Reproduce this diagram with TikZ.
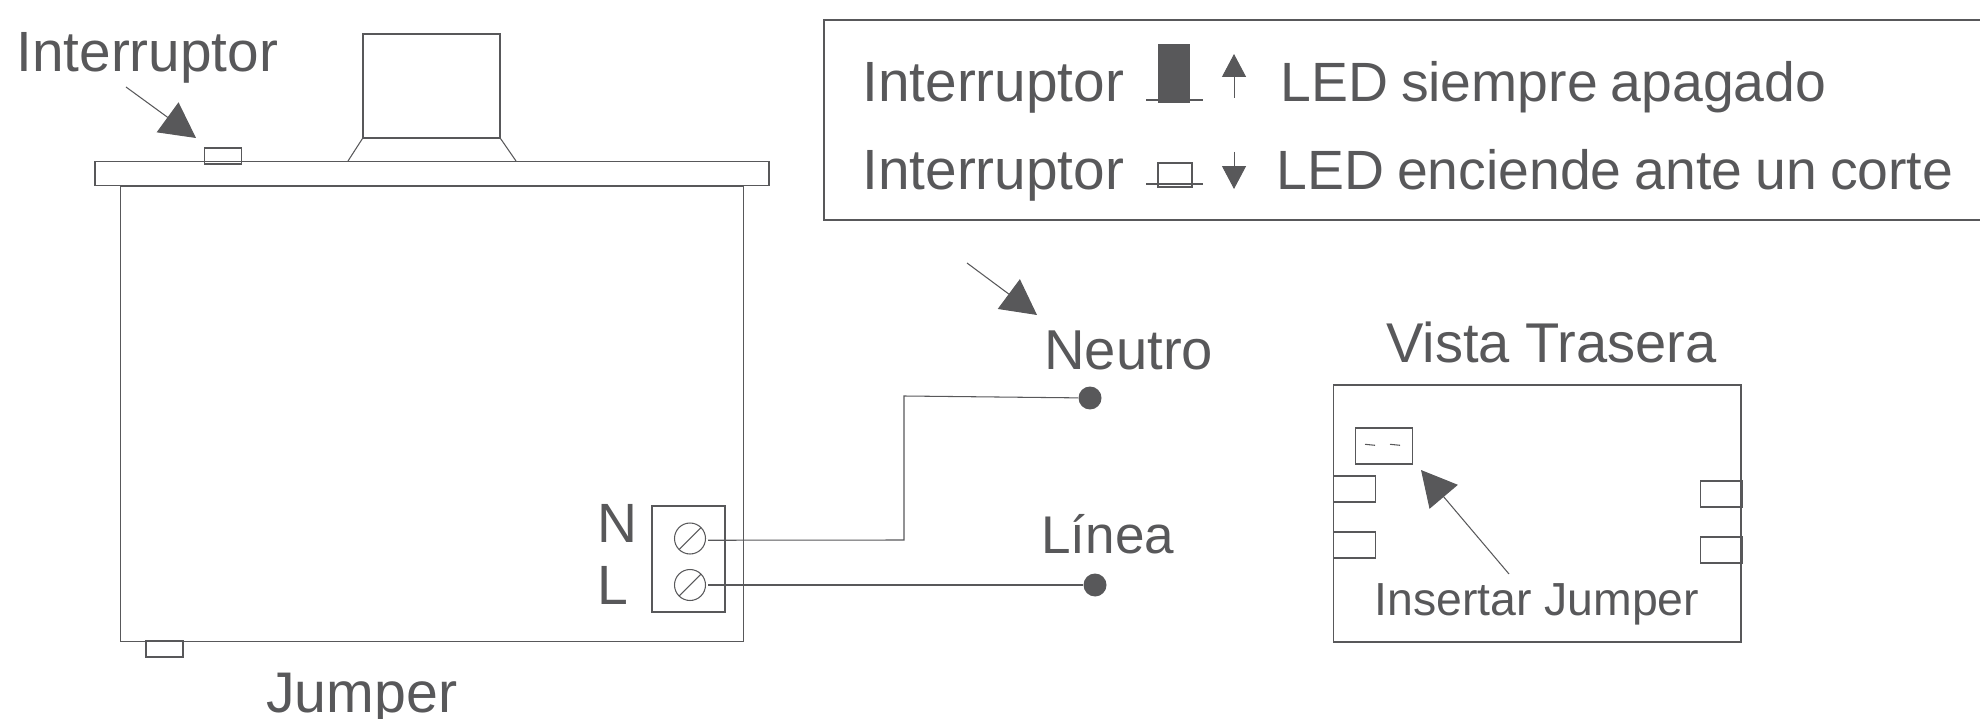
\documentclass[tikz,border=0pt]{standalone}
\usepackage{fontspec}
\setmainfont{Liberation Sans}
\usetikzlibrary{arrows.meta}
\definecolor{ink}{HTML}{58585A}
\newcommand{\sized}[1]{\fontsize{#1}{36}\selectfont}

\begin{document}
\begin{tikzpicture}[
  x=0.02cm, y=-0.02cm,
  part/.style={draw=ink, rectangle, inner sep=0pt, line width=0.6pt},
  screw/.style={draw=ink, circle, inner sep=0pt, outer sep=0pt, minimum size=0.62cm, line width=0.6pt},
  dot/.style={fill=ink, circle, inner sep=0pt, minimum size=0.46cm},
  txt/.style={anchor=base west, inner sep=0pt, text=ink, font=\sized{31.5}},
  tight/.style={txt, execute at begin node={\spaceskip=0.236em\relax}},
  wire/.style={draw=ink, line width=0.6pt},
  pointer/.style={draw=ink, line width=0.6pt, -{Triangle[length=20pt, width=21pt]}},
  mini/.style={draw=ink, line width=0.55pt, -{Triangle[length=13pt, width=13.6pt]}}
]
\useasboundingbox (0,0) rectangle (1980,719);

% Front view
\node[part, minimum width=2.74cm, minimum height=2.08cm] (knob) at (431.5,86) {};
\draw[wire] (knob.south west) -- (348,161);
\draw[wire] (knob.south east) -- (516,161);
\node[part, minimum width=0.73cm, minimum height=0.32cm] (switch) at (223,156) {};
\node[part, line width=1pt, minimum width=13.48cm, minimum height=0.48cm] (lid) at (432,173.5) {};
\node[part, minimum width=12.48cm, minimum height=9.12cm] (body) at (432,414) {};
\node[part, minimum width=0.74cm, minimum height=0.32cm] (jumper) at (164.5,649) {};

% Terminal block
\node[part, minimum width=1.46cm, minimum height=2.12cm] (block) at (688.5,559) {};
\node[screw] (screwN) at (690,538.5) {};
\node[screw] (screwL) at (690,585) {};
\draw[wire] (screwN.225) -- (screwN.45);
\draw[wire] (screwL.225) -- (screwL.45);

% Mains
\node[dot] (dotN) at (1090,398) {};
\node[dot] (dotL) at (1095,585) {};
\coordinate (bendA) at (904,540);
\coordinate (bendB) at (904,396);
\draw[wire] ([xshift=1.5pt,yshift=-1pt]screwN.east) -- (bendA) -- (bendB) -- (dotN);
\draw[wire] ([xshift=1.5pt]screwL.east) -- (dotL);

% Rear view
\node[part, minimum width=8.16cm, minimum height=5.14cm] (rear) at (1537,513.5) {};
\node[part, minimum width=1.14cm, minimum height=0.72cm] (socket) at (1384,446) {};
\draw[wire] (1365,444.3) -- (1375,445.3);
\draw[wire] (1390,444.3) -- (1400,445.3);
\node[part, minimum width=0.85cm, minimum height=0.52cm] (tabA) at (1354.3,489) {};
\node[part, minimum width=0.85cm, minimum height=0.52cm] (tabB) at (1354.3,545) {};
\node[part, minimum width=0.84cm, minimum height=0.52cm] (tabC) at (1721,494) {};
\node[part, minimum width=0.84cm, minimum height=0.52cm] (tabD) at (1721,550) {};

% Legend
\draw[wire] (1980,20) -- (824,20) -- (824,220) -- (1980,220);
\node[part, fill=ink, minimum width=0.62cm, minimum height=1.14cm] (swOn) at (1174,73.5) {};
\draw[wire] (1146,100) -- (1203,100);
\node[part, minimum width=0.68cm, minimum height=0.48cm] (swOff) at (1175,175) {};
\draw[wire] (1146,184) -- (1203,184);
\coordinate (upTail) at (1234,98);
\coordinate (upTip) at (1234,54);
\coordinate (downTail) at (1234,152);
\coordinate (downTip) at (1234,189);
\draw[mini] (upTail) -- (upTip);
\draw[mini] (downTail) -- (downTip);

% Pointers
\coordinate (tailSwitch) at (126,87);
\coordinate (tipSwitch) at (196,138);
\coordinate (tailNeutro) at (967,263);
\coordinate (tipNeutro) at (1037,315);
\coordinate (tailSocket) at (1509,574);
\coordinate (tipSocket) at (1421,470);
\draw[pointer] (tailSwitch) -- (tipSwitch);
\draw[pointer] (tailNeutro) -- (tipNeutro);
\draw[pointer] (tailSocket) -- (tipSocket);

% Labels
\node[txt, font=\sized{32.3}] (lblSwitch) at (16,72) {Interruptor};
\node[txt, font=\sized{32.6}] (lblJumper) at (266,712) {Jumper};
\node[txt] (lblN) at (597,542) {N};
\node[txt] (lblL) at (597,604) {L};
\node[txt, font=\sized{32}] (lblNeutro) at (1044,369) {Neutro};
\node[txt, font=\sized{30.2}] (lblLinea) at (1041,553) {Línea};
\node[txt, font=\sized{31.9}] (lblRear) at (1386,362) {Vista Trasera};
\node[txt, font=\sized{26.4}] (lblInsert) at (1374,615) {Insertar Jumper};
\node[txt, font=\sized{32.3}] (lblOnA) at (862,102) {Interruptor};
\node[tight] (lblOnB) at (1280,102) {LED siempre apagado};
\node[txt, font=\sized{32.3}] (lblOffA) at (862,190) {Interruptor};
\node[tight] (lblOffB) at (1276,190) {LED enciende ante un corte};

\end{tikzpicture}
\end{document}
